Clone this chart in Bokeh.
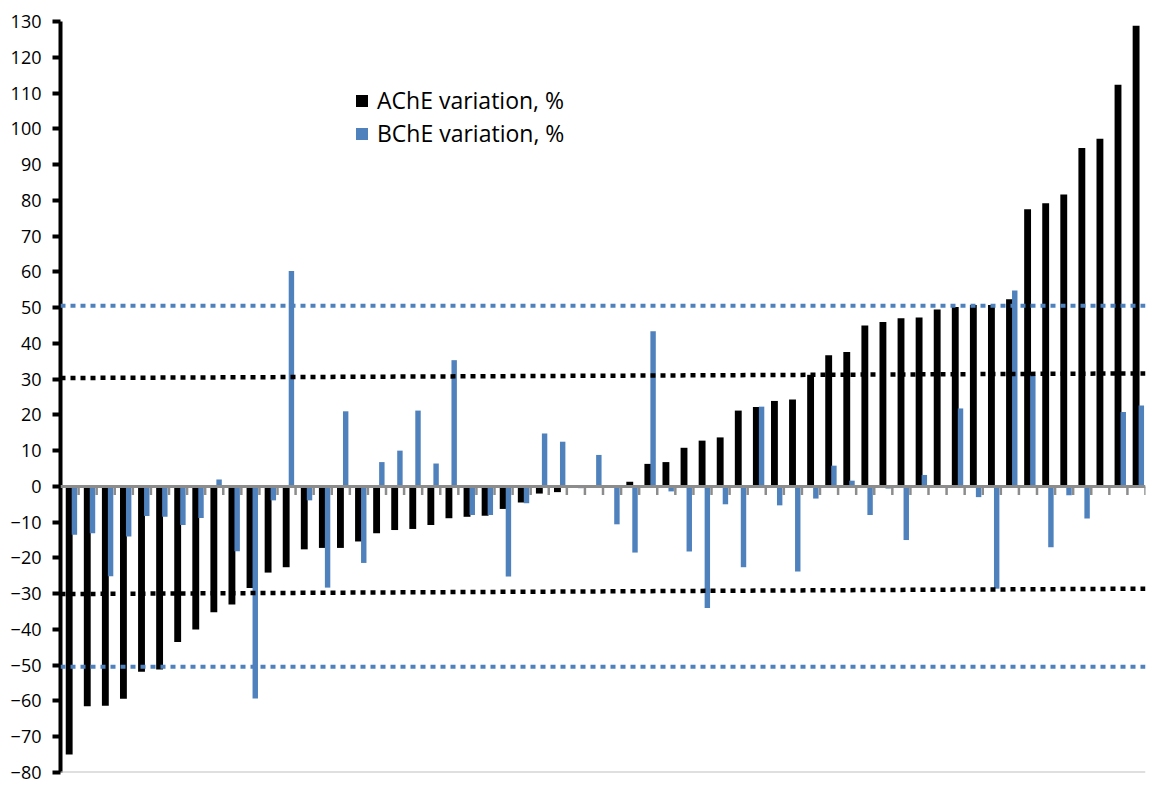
from bokeh.plotting import figure
from bokeh.models import Range1d, FixedTicker, Span, Legend, LegendItem, ColumnDataSource
from bokeh.transform import dodge
from bokeh.embed import file_html
from bokeh.resources import INLINE

# ---- data ----
ache = [-75.0, -61.5, -61.3, -59.4, -51.8, -51.2, -43.5, -40.0, -35.2, -33.0,
        -28.4, -24.1, -22.6, -17.6, -17.2, -17.2, -15.4, -13.1, -12.2, -11.9,
        -10.8, -8.9, -8.5, -8.2, -6.3, -4.5, -2.0, -1.6, 0.0, 0.2,
        0.4, 1.3, 6.3, 6.8, 10.8, 12.8, 13.7, 21.2, 22.2, 23.9,
        24.3, 31.2, 36.7, 37.6, 45.0, 46.0, 47.0, 47.2, 49.5, 50.2,
        50.7, 50.7, 52.3, 77.5, 79.2, 81.6, 94.6, 97.2, 112.3, 128.8]
bche = [-13.5, -13.1, -25.1, -14.0, -8.3, -8.5, -10.8, -8.8, 1.9, -18.1,
        -59.3, -3.9, 60.2, -3.9, -28.3, 21.0, -21.4, 6.8, 10.0, 21.2,
        6.4, 35.3, -8.0, -8.0, -25.2, -4.7, 14.8, 12.5, -0.5, 8.8,
        -10.6, -18.5, 43.4, -1.4, -18.2, -34.0, -5.0, -22.6, 22.3, -5.3,
        -23.8, -3.4, 5.8, 1.6, -8.0, -0.6, -15.0, 3.2, -0.4, 21.8,
        -3.0, -28.6, 54.8, 31.0, -17.0, -2.5, -9.0, 0.0, 20.8, 22.6]
samples = list(range(1, len(ache) + 1))
y_ticks = list(range(-80, 131, 10))
series_names = ["AChE variation, %", "BChE variation, %"]
blue_limits = [50.5, -50.4]           # blue dotted reference lines
black_limits_start = [30.3, -30.1]     # black dotted lines, left end
black_limits_end = [31.6, -28.6]       # black dotted lines, right end

BLUE = "#4f81bd"
FONT = "Open Sans"

src = ColumnDataSource(dict(sample=samples, ache=ache, bche=bche))

W, H = 1151, 785
MB_L, MB_T, MB_B, MB_R = 60, 21, 13, 6
frame_h = H - MB_T - MB_B

x_lo, x_hi = 0.5, len(samples) + 0.5
p = figure(width=W, height=H, output_backend="svg", toolbar_location=None,
           x_range=Range1d(x_lo, x_hi), y_range=Range1d(-80, 130),
           min_border_left=MB_L, min_border_top=MB_T, min_border_bottom=MB_B,
           min_border_right=MB_R)
p.outline_line_color = None
p.background_fill_color = "white"
p.xgrid.visible = False
p.ygrid.visible = False
p.xaxis.visible = False

ax = p.yaxis[0]
ax.ticker = FixedTicker(ticks=y_ticks)
ax.axis_line_color = "black"
ax.axis_line_width = 4
ax.major_tick_line_color = "black"
ax.major_tick_line_width = 4
ax.major_tick_out = 8
ax.major_tick_in = 0
ax.minor_tick_line_color = None
ax.major_label_text_font = FONT
ax.major_label_text_font_size = "18px"
ax.major_label_text_color = "black"
ax.major_label_standoff = 11

r_a = p.vbar(x=dodge("sample", -0.02), top="ache", bottom=0, width=0.38, source=src,
             fill_color="black", line_color=None)
r_b = p.vbar(x=dodge("sample", 0.27), top="bche", bottom=0, width=0.30, source=src,
             fill_color=BLUE, line_color=None)

# horizontal category axis at zero, with ticks between categories
p.add_layout(Span(location=0, dimension="width", line_color="#8c8c8c", line_width=3))
bounds = [s - 0.5 for s in samples] + [samples[-1] + 0.5]
p.segment(x0=bounds, y0=[0] * len(bounds), x1=bounds, y1=[-2.4] * len(bounds),
          line_color="#8c8c8c", line_width=2.5)
# bottom frame line
p.add_layout(Span(location=-80, dimension="width", line_color="#bfbfbf", line_width=2))

# reference lines
for v in blue_limits:
    p.add_layout(Span(location=v, dimension="width", line_color=BLUE, line_width=4,
                      line_dash="5 5"))
p.segment(x0=[x_lo] * 2, y0=black_limits_start, x1=[x_hi] * 2, y1=black_limits_end,
          line_color="black", line_width=4.5, line_dash="5 5")

item_h, gap = 29, 1
legend_h = 2 * item_h + gap
legend = Legend(items=[LegendItem(label=series_names[0], renderers=[r_a]),
                       LegendItem(label=series_names[1], renderers=[r_b])],
                location=(294, frame_h - 69 - legend_h), orientation="vertical",
                glyph_width=15, glyph_height=15, label_height=item_h, spacing=gap,
                label_standoff=8, padding=0, margin=0,
                label_text_font=FONT, label_text_font_size="23px", label_text_color="black",
                background_fill_alpha=0, border_line_alpha=0)
p.add_layout(legend)

open("out.html", "w").write(file_html(p, INLINE))
